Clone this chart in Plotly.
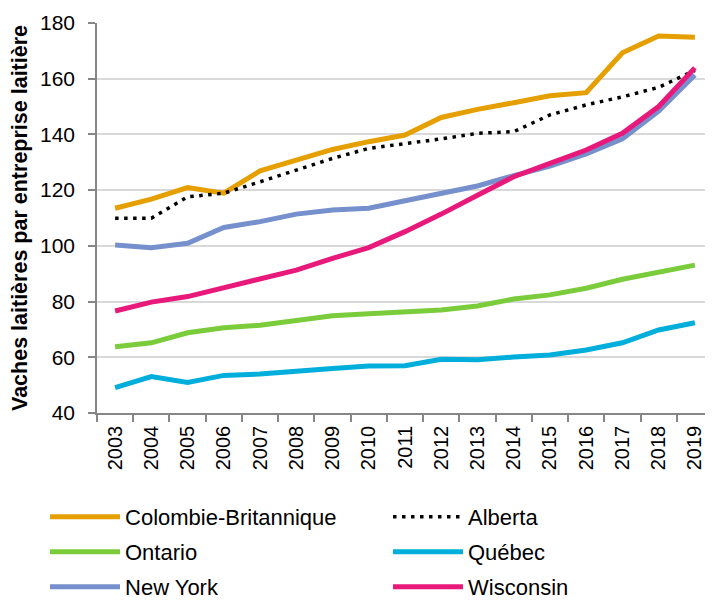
import plotly.graph_objects as go

years = [str(y) for y in range(2003, 2020)]

colombie_britannique = [113.5, 116.8, 120.9, 118.9, 126.9, 130.8, 134.6, 137.4, 139.8, 146.1, 149.0, 151.4, 153.9, 155.0, 169.3, 175.3, 174.9]
alberta = [109.9, 109.9, 117.6, 118.9, 123.0, 127.2, 131.4, 135.0, 136.6, 138.4, 140.4, 141.0, 147.0, 150.6, 153.5, 156.9, 163.0]
ontario = [63.8, 65.2, 68.8, 70.6, 71.5, 73.4, 74.9, 75.6, 76.4, 77.0, 78.4, 80.9, 82.4, 84.8, 88.0, 90.7, 93.1]
quebec = [49.1, 53.1, 51.0, 53.5, 54.0, 55.2, 56.0, 56.9, 57.0, 59.3, 59.1, 60.1, 60.8, 62.6, 65.2, 69.8, 72.4]
new_york = [100.3, 99.3, 100.9, 106.6, 108.7, 111.4, 112.9, 113.5, 116.2, 118.7, 121.5, 125.2, 128.6, 133.0, 138.4, 148.4, 161.3]
wisconsin = [76.6, 79.8, 81.8, 85.1, 88.3, 91.3, 95.5, 99.4, 105.1, 111.4, 118.2, 124.8, 129.6, 134.4, 140.4, 150.0, 163.9]

# (name, values, colour, dash, width, legend row)
series = [
    ("Colombie-Britannique", colombie_britannique, "#E5A000", "solid", 5, "legend"),
    ("Alberta", alberta, "#000000", "3.5px,5.5px", 3.5, "legend"),
    ("Ontario", ontario, "#7ACC3A", "solid", 5, "legend2"),
    ("Québec", quebec, "#00AEDB", "solid", 5, "legend2"),
    ("New York", new_york, "#7590CC", "solid", 5, "legend3"),
    ("Wisconsin", wisconsin, "#E8197A", "solid", 5, "legend3"),
]

fig = go.Figure()
for name, vals, color, dash, w, lg in series:
    fig.add_trace(go.Scatter(
        x=years, y=vals, name=name, mode="lines", legend=lg,
        line=dict(color=color, width=w, dash=dash),
    ))

font_family = "Arial, Liberation Sans, sans-serif"


def legend_row(y):
    return dict(
        orientation="h", x=-0.0844, y=y, xanchor="left", yanchor="middle",
        entrywidth=258, entrywidthmode="pixels", itemwidth=70,
        font=dict(size=22, family=font_family, color="#000000"),
        traceorder="normal", bgcolor="rgba(0,0,0,0)",
    )


# the page body adds an 8px margin, so the figure is 8px smaller each way
fig.update_layout(
    width=705, height=592,
    margin=dict(l=89, r=0, t=15, b=187, autoexpand=False),
    paper_bgcolor="white", plot_bgcolor="white",
    font=dict(family=font_family, color="#000000"),
    showlegend=True,
    legend=legend_row(-0.2667),
    legend2=legend_row(-0.3564),
    legend3=legend_row(-0.4462),
    xaxis=dict(
        type="category", range=[-0.5, 16.5], tickson="boundaries",
        ticks="outside", ticklen=7, tickcolor="#868686", tickwidth=1.5,
        ticklabelstandoff=3,
        showline=True, linecolor="#868686", linewidth=1.5,
        showgrid=False, tickangle=-90, tickfont=dict(size=20),
        fixedrange=True,
    ),
    yaxis=dict(
        range=[40, 180], dtick=20, tick0=40,
        ticks="outside", ticklen=7, tickcolor="#868686", tickwidth=1.5,
        ticklabelstandoff=9,
        showline=True, linecolor="#868686", linewidth=1.5,
        showgrid=True, gridcolor="#D9D9D9", gridwidth=1.5,
        zeroline=False, tickfont=dict(size=21),
        title=dict(text="<b>Vaches laitières par entreprise laitière</b>",
                   font=dict(size=21.5), standoff=8),
    ),
)

fig.write_html("out.html")
